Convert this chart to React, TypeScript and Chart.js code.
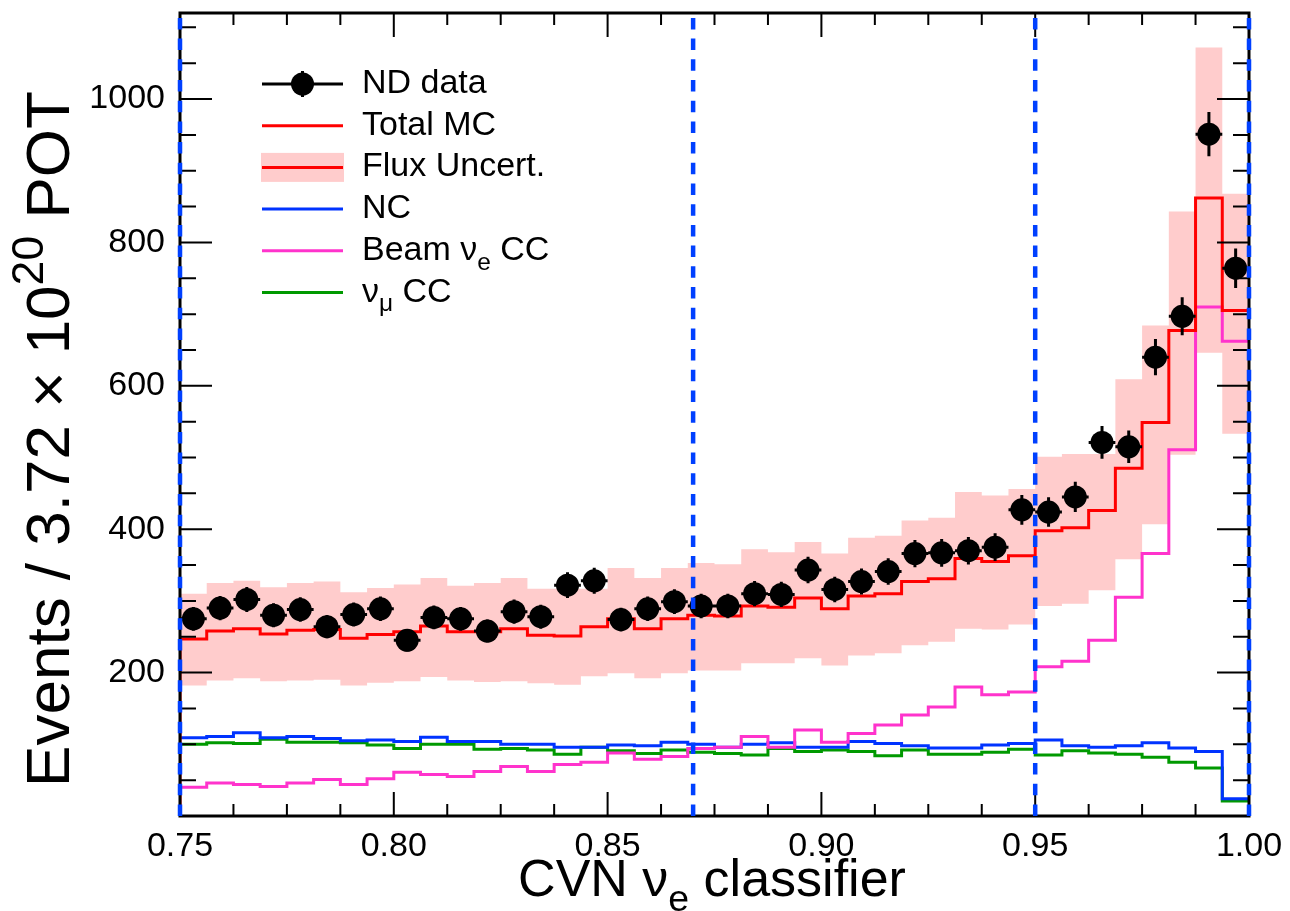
import React, { useEffect, useRef } from "react";
import { Chart, registerables } from "chart.js";

Chart.register(...registerables);

// ---- axis ranges / binning ----
const X_MIN = 0.75;
const X_MAX = 1.0;
const N_BINS = 40;
const Y_MIN = 0;
const Y_MAX = 1120;
const X_TICK_STEP = 0.05;
const Y_TICK_STEP = 200;
const X_MINOR_STEP = 0.0125;
const Y_MINOR_STEP = 50;

// ---- data (events per bin) ----
const ndData = [275, 290, 302, 280, 288, 264, 281, 289, 245, 277, 275, 258, 285, 278, 322, 328, 274, 289, 299, 293,
  293, 310, 309, 343, 316, 327, 341, 366, 367, 370, 375, 427, 424, 445, 521, 515, 640, 697, 951, 764];
const ndErr = [16.6, 17.0, 17.4, 16.7, 17.0, 16.2, 16.8, 17.0, 15.7, 16.6, 16.6, 16.1, 16.9, 16.7, 17.9, 18.1, 16.6, 17.0, 17.3, 17.1,
  17.1, 17.6, 17.6, 18.5, 17.8, 18.1, 18.5, 19.1, 19.2, 19.2, 19.4, 20.7, 20.6, 21.1, 22.8, 22.7, 25.3, 26.4, 30.8, 27.6];
const totalMC = [247, 258, 261, 254, 259, 260, 248, 253, 257, 265, 257, 257, 261, 252, 251, 264, 275, 261, 275, 280,
  279, 293, 291, 304, 289, 307, 310, 327, 331, 359, 355, 363, 398, 402, 426, 485, 549, 677, 862, 705];
const fluxUpper = [310, 325, 328, 319, 325, 327, 312, 318, 323, 332, 321, 325, 332, 317, 317, 317, 346, 332, 346, 353,
  351, 372, 368, 382, 366, 388, 391, 412, 416, 452, 447, 456, 501, 505, 505, 609, 684, 843, 1072, 868];
const fluxLower = [182, 189, 192, 188, 189, 190, 182, 186, 188, 194, 189, 187, 188, 185, 183, 195, 199, 192, 199, 203,
  203, 213, 213, 220, 210, 224, 227, 238, 243, 261, 260, 267, 293, 296, 315, 358, 407, 504, 646, 533];
const ncBkg = [109, 111, 116, 109, 111, 108, 105, 106, 104, 110, 104, 104, 100, 100, 96, 96, 99, 98, 103, 100,
  96, 100, 102, 96, 96, 104, 101, 98, 95, 95, 99, 101, 106, 98, 96, 98, 102, 95, 90, 24];
const beamNueCC = [40, 46, 44, 41, 46, 51, 44, 52, 61, 58, 55, 62, 69, 62, 72, 75, 88, 79, 83, 94,
  96, 111, 96, 120, 103, 115, 127, 141, 152, 180, 169, 173, 208, 216, 245, 305, 366, 511, 710, 662];
const numuCC = [100, 102, 101, 107, 103, 103, 102, 99, 94, 100, 100, 93, 94, 92, 86, 96, 91, 87, 92, 89,
  87, 85, 94, 90, 92, 90, 84, 92, 86, 86, 89, 93, 85, 91, 88, 86, 82, 75, 67, 21];

// vertical dashed cut lines
const cutLines = [0.75, 0.87, 0.95, 1.0];

// ---- text ----
const FONT = '"Liberation Sans", Arial, Helvetica, sans-serif';
type Part = { t: string; sub?: boolean; sup?: boolean };
const yTitle: Part[] = [{ t: "Events / 3.72 × 10" }, { t: "20", sup: true }, { t: " POT" }];
const xTitle: Part[] = [{ t: "CVN ν" }, { t: "e", sub: true }, { t: " classifier" }];
const legendEntries: { kind: string; color: string; parts: Part[] }[] = [
  { kind: "data", color: "#000000", parts: [{ t: "ND data" }] },
  { kind: "line", color: "#ff0000", parts: [{ t: "Total MC" }] },
  { kind: "band", color: "#ff0000", parts: [{ t: "Flux Uncert." }] },
  { kind: "line", color: "#0033ff", parts: [{ t: "NC" }] },
  { kind: "line", color: "#ff33cc", parts: [{ t: "Beam ν" }, { t: "e", sub: true }, { t: " CC" }] },
  { kind: "line", color: "#009900", parts: [{ t: "ν" }, { t: "μ", sub: true }, { t: " CC" }] },
];

const BAND_COLOR = "#ffcccc";
const binW = (X_MAX - X_MIN) / N_BINS;
const edges = Array.from({ length: N_BINS + 1 }, (_, i) => X_MIN + i * binW);
const centers = edges.slice(0, N_BINS).map((e) => e + binW / 2);

function histPoints(vals: number[], fromZero = false) {
  const pts: { x: number; y: number }[] = [];
  if (fromZero) pts.push({ x: edges[0], y: 0 });
  vals.forEach((v, i) => pts.push({ x: edges[i], y: v }));
  pts.push({ x: edges[N_BINS], y: vals[N_BINS - 1] });
  return pts;
}

const SMALL = 0.72;

function richWidth(ctx: CanvasRenderingContext2D, parts: Part[], size: number) {
  let w = 0;
  for (const p of parts) {
    const s = p.sub || p.sup ? size * SMALL : size;
    ctx.font = `${s}px ${FONT}`;
    w += ctx.measureText(p.t).width;
  }
  return w;
}

function drawRich(ctx: CanvasRenderingContext2D, parts: Part[], x: number, y: number, size: number) {
  let cx = x;
  ctx.textAlign = "left";
  ctx.textBaseline = "alphabetic";
  for (const p of parts) {
    const s = p.sub || p.sup ? size * SMALL : size;
    ctx.font = `${s}px ${FONT}`;
    const dy = p.sub ? size * 0.29 : p.sup ? -size * 0.42 : 0;
    ctx.fillText(p.t, cx, y + dy);
    cx += ctx.measureText(p.t).width;
  }
}

const rootStyle = {
  id: "rootStyle",
  afterDatasetsDraw(chart: any) {
    const ctx: CanvasRenderingContext2D = chart.ctx;
    const xs = chart.scales.x;
    const ys = chart.scales.y;
    const { left, right, top, bottom } = chart.chartArea;
    ctx.save();
    // error bars of the data
    ctx.strokeStyle = "#000";
    ctx.lineWidth = 3;
    ctx.beginPath();
    ndData.forEach((v, i) => {
      const xc = xs.getPixelForValue(centers[i]);
      const yc = ys.getPixelForValue(v);
      ctx.moveTo(xc, ys.getPixelForValue(v - ndErr[i]));
      ctx.lineTo(xc, ys.getPixelForValue(v + ndErr[i]));
      ctx.moveTo(xs.getPixelForValue(edges[i]), yc);
      ctx.lineTo(xs.getPixelForValue(edges[i + 1]), yc);
    });
    ctx.stroke();
    // frame
    ctx.lineWidth = 3;
    ctx.strokeRect(left, top, right - left, bottom - top);
    // ticks (inside, all four sides)
    ctx.lineWidth = 2;
    ctx.beginPath();
    const nx = Math.round((X_MAX - X_MIN) / X_MINOR_STEP);
    for (let k = 0; k <= nx; k++) {
      const v = X_MIN + k * X_MINOR_STEP;
      const px = xs.getPixelForValue(v);
      const major = k % Math.round(X_TICK_STEP / X_MINOR_STEP) === 0;
      const len = major ? 24 : 12;
      ctx.moveTo(px, bottom);
      ctx.lineTo(px, bottom - len);
      ctx.moveTo(px, top);
      ctx.lineTo(px, top + len);
    }
    for (let v = Y_MIN; v <= Y_MAX; v += Y_MINOR_STEP) {
      const py = ys.getPixelForValue(v);
      const major = v % Y_TICK_STEP === 0;
      const len = major ? 32 : 16;
      ctx.moveTo(left, py);
      ctx.lineTo(left + len, py);
      ctx.moveTo(right, py);
      ctx.lineTo(right - len, py);
    }
    ctx.stroke();
    // dashed cut lines
    ctx.strokeStyle = "#0040ff";
    ctx.lineWidth = 4.5;
    ctx.setLineDash([11.5, 9.2]);
    ctx.beginPath();
    cutLines.forEach((c) => {
      const px = xs.getPixelForValue(c);
      ctx.moveTo(px, bottom);
      ctx.lineTo(px, top);
    });
    ctx.stroke();
    ctx.setLineDash([]);
    ctx.restore();
  },
  afterDraw(chart: any) {
    const ctx: CanvasRenderingContext2D = chart.ctx;
    ctx.save();
    ctx.fillStyle = "#000";
    // x title
    const xsz = 52;
    const xw = richWidth(ctx, xTitle, xsz);
    drawRich(ctx, xTitle, 712 - xw / 2, 896, xsz);
    // y title (rotated)
    const ysz = 62;
    const yw = richWidth(ctx, yTitle, ysz);
    ctx.save();
    ctx.translate(69, 439);
    ctx.rotate(-Math.PI / 2);
    drawRich(ctx, yTitle, -yw / 2, 0, ysz);
    ctx.restore();
    // legend
    const lx0 = 262, lx1 = 343, tx = 362, y0 = 84, dy = 41.7;
    legendEntries.forEach((e, i) => {
      const y = y0 + i * dy;
      if (e.kind === "band") {
        ctx.fillStyle = BAND_COLOR;
        ctx.fillRect(lx0 - 1, y - 14.5, lx1 - lx0 + 2, 29);
      }
      ctx.strokeStyle = e.color;
      ctx.lineWidth = 3;
      ctx.beginPath();
      ctx.moveTo(lx0, y);
      ctx.lineTo(lx1, y);
      if (e.kind === "data") {
        const mx = (lx0 + lx1) / 2;
        ctx.moveTo(mx, y - 13);
        ctx.lineTo(mx, y + 13);
      }
      ctx.stroke();
      if (e.kind === "data") {
        ctx.fillStyle = "#000";
        ctx.beginPath();
        ctx.arc((lx0 + lx1) / 2, y, 11.5, 0, Math.PI * 2);
        ctx.fill();
      }
      ctx.fillStyle = "#000";
      drawRich(ctx, e.parts, tx, y + 9, 34);
    });
    ctx.restore();
  },
};

export default function App() {
  const ref = useRef<HTMLCanvasElement | null>(null);
  useEffect(() => {
    if (!ref.current) return;
    const stepped = "before" as const;
    const chart = new Chart(ref.current, {
      type: "line",
      data: {
        datasets: [
          {
            label: "ND data",
            data: ndData.map((v, i) => ({ x: centers[i], y: v })),
            showLine: false,
            pointRadius: 11.5,
            pointBackgroundColor: "#000",
            pointBorderWidth: 0,
            order: 0,
          },
          {
            label: "Total MC",
            data: histPoints(totalMC, true),
            borderColor: "#ff0000",
            borderWidth: 3,
            pointRadius: 0,
            stepped,
            fill: false,
            order: 1,
          },
          {
            label: "Beam nue CC",
            data: histPoints(beamNueCC),
            borderColor: "#ff33cc",
            borderWidth: 3,
            pointRadius: 0,
            stepped,
            fill: false,
            order: 2,
          },
          {
            label: "NC",
            data: histPoints(ncBkg),
            borderColor: "#0033ff",
            borderWidth: 3,
            pointRadius: 0,
            stepped,
            fill: false,
            order: 3,
          },
          {
            label: "numu CC",
            data: histPoints(numuCC),
            borderColor: "#009900",
            borderWidth: 3,
            pointRadius: 0,
            stepped,
            fill: false,
            order: 4,
          },
          {
            label: "flux lower",
            data: histPoints(fluxLower),
            borderWidth: 0,
            borderColor: "rgba(0,0,0,0)",
            pointRadius: 0,
            stepped,
            fill: false,
            order: 10,
          },
          {
            label: "Flux Uncert.",
            data: histPoints(fluxUpper),
            borderWidth: 0,
            borderColor: "rgba(0,0,0,0)",
            backgroundColor: BAND_COLOR,
            pointRadius: 0,
            stepped,
            fill: "-1",
            order: 9,
          },
        ],
      },
      options: {
        animation: false,
        responsive: true,
        maintainAspectRatio: false,
        devicePixelRatio: 1,
        events: [],
        layout: { padding: { left: 0, top: 13, right: 41, bottom: 0 } },
        plugins: {
          legend: { display: false },
          tooltip: { enabled: false },
          title: { display: false },
        },
        scales: {
          x: {
            type: "linear",
            min: X_MIN,
            max: X_MAX,
            grid: { display: false, drawTicks: false },
            border: { display: false },
            ticks: {
              stepSize: X_TICK_STEP,
              autoSkip: false,
              maxRotation: 0,
              padding: 10,
              color: "#000",
              font: { family: FONT, size: 34 },
              callback: (v: any) => Number(v).toFixed(2),
            },
            afterFit: (s: any) => {
              s.height = 95;
              s.paddingLeft = 0;
              s.paddingRight = 0;
            },
          },
          y: {
            type: "linear",
            min: Y_MIN,
            max: Y_MAX,
            grid: { display: false, drawTicks: false },
            border: { display: false },
            ticks: {
              stepSize: Y_TICK_STEP,
              autoSkip: false,
              padding: 15,
              color: "#000",
              font: { family: FONT, size: 34 },
              callback: (v: any) => (Number(v) === 0 || Number(v) % Y_TICK_STEP !== 0 ? "" : String(v)),
            },
            afterFit: (s: any) => {
              s.width = 180;
              s.paddingTop = 0;
              s.paddingBottom = 0;
            },
          },
        },
      },
      plugins: [rootStyle],
    });
    return () => chart.destroy();
  }, []);
  return (
    <div style={{ position: "fixed", left: 0, top: 0, width: 1290, height: 911, background: "#fff" }}>
      <canvas ref={ref} />
    </div>
  );
}
